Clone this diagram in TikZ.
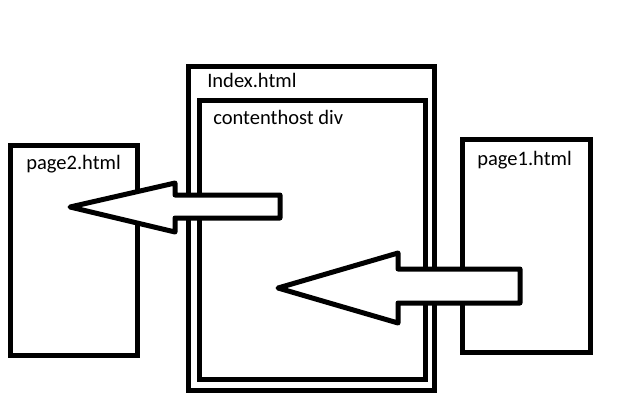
\documentclass[tikz,border=0pt]{standalone}
\usepackage{fontspec}
\setmainfont{Carlito}
\usetikzlibrary{positioning}
\definecolor{penblack}{RGB}{0,0,0}
\definecolor{paperwhite}{RGB}{255,255,255}
\tikzset{
    % boxes for the pages and the div
    pagebox/.style={
        rectangle, draw=penblack, line width=3.75pt, fill=paperwhite,
        inner sep=0pt
    },
    % labels in the upper left of each box
    boxlabel/.style={
        anchor=base west, inner sep=0pt,
        font=\fontsize{15.4}{18}\selectfont
    },
    % hollow block arrows
    blockarrow/.style={
        draw=penblack, line width=3.75pt, fill=paperwhite, line join=round
    }
}

\begin{document}
\begin{tikzpicture}[x=0.75pt, y=-0.75pt]
\useasboundingbox (0,0) rectangle (624,412);

% the boxes
\node[pagebox, minimum width=184.5pt, minimum height=243pt] (index) at (311,228) {};
\node[pagebox, minimum width=169.5pt, minimum height=209.25pt] (contenthost) at (312,239.5) {};
\node[pagebox, minimum width=96pt, minimum height=159.75pt] (page1) at (526,245.5) {};
\node[pagebox, minimum width=95.25pt, minimum height=157.5pt] (page2) at (73.5,250) {};

% the labels
\node[boxlabel] (indexlabel) at (207,87) {Index.html};
\node[boxlabel] (contentlabel) at (213,124) {contenthost div};
\node[boxlabel] (page1label) at (477,165) {page1.html};
\node[boxlabel] (page2label) at (26,169) {page2.html};

% the arrows
\draw[blockarrow] (70,207) -- (175,183) -- (175,195) -- (280,195)
    -- (280,218) -- (175,218) -- (175,232) -- cycle;
\draw[blockarrow] (278,288) -- (398,253) -- (398,269) -- (520,269)
    -- (520,303) -- (398,303) -- (398,323) -- cycle;

\end{tikzpicture}
\end{document}
